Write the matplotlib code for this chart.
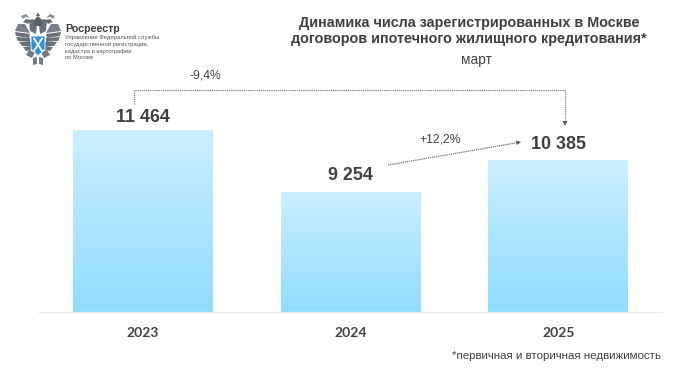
import numpy as np
import matplotlib
matplotlib.use("Agg")
import matplotlib.pyplot as plt
from matplotlib.colors import LinearSegmentedColormap
from matplotlib.patches import Polygon, Circle

years = ["2023", "2024", "2025"]
values = [11464, 9254, 10385]
labels = ["11 464", "9 254", "10 385"]
change_total = "-9,4%"
change_last = "+12,2%"

W, H = 682, 384
plt.rcParams["font.family"] = ["Liberation Sans", "DejaVu Sans"]
fig = plt.figure(figsize=(W/100, H/100), dpi=100, facecolor="white")

def rect(x0, ytop, x1, ybot):
    return [x0/W, 1-ybot/H, (x1-x0)/W, (ybot-ytop)/H]

ax = fig.add_axes(rect(39, 100, 662, 312))
ymin = 5000
ymax = ymin + 212/0.02805
x = np.arange(3)
bw = 0.672
cmap = LinearSegmentedColormap.from_list("b", ["#90DCFF", "#CBEEFF"])
grad = np.linspace(0, 1, 256).reshape(-1, 1)
bars = ax.bar(x, values, width=bw, color="none", edgecolor="none")
for b in bars:
    ax.imshow(grad, extent=[b.get_x(), b.get_x()+b.get_width(), ymin, b.get_height()],
              origin="lower", aspect="auto", cmap=cmap, zorder=2)
ax.set_xlim(-0.5, 2.5)
ax.set_ylim(ymin, ymax)
for s in ["left", "right", "top"]:
    ax.spines[s].set_visible(False)
ax.spines["bottom"].set_color("#E8E8E8")
ax.spines["bottom"].set_linewidth(1)
ax.set_yticks([])
ax.set_xticks(x)
ax.set_xticklabels(years, fontsize=10, fontweight="bold", color="#404040", family=["Lato", "DejaVu Sans"])
ax.tick_params(axis="x", length=0, pad=10.5)
label_pad = [3.2, 6.5, 6]
for i, v in enumerate(values):
    ax.annotate(labels[i], (x[i], v), xytext=(0, label_pad[i]), textcoords="offset points", ha="center", va="bottom",
                fontsize=12.9, fontweight="bold", color="#404040", zorder=4)

ov = fig.add_axes([0, 0, 1, 1], facecolor="none")
ov.set_xlim(0, W); ov.set_ylim(H, 0); ov.axis("off")
tc = "#404040"
ov.text(469, 31, "Динамика числа зарегистрированных в Москве\nдоговоров ипотечного жилищного кредитования*",
        ha="center", va="center", fontsize=10.4, fontweight="bold", color=tc, linespacing=1.1)
ov.text(476, 60, "март", ha="center", va="center", fontsize=9.8, color=tc)
ov.text(556, 356, "*первичная и вторичная недвижимость", ha="center", va="center", fontsize=8.25, color=tc)

dash = dict(color="#808080", lw=0.9, ls=(0, (1, 0.7)))
ov.plot([134, 134, 565, 565], [104, 90, 90, 122], **dash)
ov.plot([388, 518], [165, 142.6], color="#707070", lw=0.9, ls=(0, (1, 0.7)))
ov.add_patch(Polygon([(565, 126), (562.5, 121), (567.5, 121)], closed=True, fc="#555555", ec="none"))
ov.add_patch(Polygon([(521, 142), (516, 140.5), (516.7, 145)], closed=True, fc="#555555", ec="none"))
ov.text(205, 75.5, change_total, ha="center", va="center", fontsize=8.7, color=tc)
ov.text(440, 140, change_last, ha="center", va="center", fontsize=8.7, color=tc)

ov.text(65, 28.5, "Росреестр", ha="left", va="center", fontsize=7.7, fontweight="bold", color="#3A3A3A")
ov.text(65, 37, "Управление Федеральной службы", ha="left", va="center", fontsize=4.2, color="#555555")
ov.text(65, 44.5, "государственной регистрации,", ha="left", va="center", fontsize=4.2, color="#555555")
ov.text(65, 51, "кадастра и картографии", ha="left", va="center", fontsize=4.2, color="#555555")
ov.text(65, 57.5, "по Москве", ha="left", va="center", fontsize=4.2, color="#555555")

# emblem (decorative)
g = "#5A626B"
cx = 38
for sgn in (-1, 1):
    P = lambda pts, **k: ov.add_patch(Polygon([(cx+sgn*a, b) for a, b in pts], closed=True, fc=k.get("fc", g), ec="none", alpha=k.get("a", 0.9)))
    P([(8,34),(23,32),(22,36),(9,38)])
    P([(8,38),(22,37),(20,41),(8,42)])
    P([(7,42),(19,42),(16,46),(7,46)])
    P([(7,46),(15,47),(12,51),(7,50)])
    P([(8,33),(13,24),(20,24),(23,31)], a=0.8)
    P([(1,25),(5,19),(9,20),(8,31),(2,34)], a=0.9)
    P([(7,20),(12,19),(15,22),(10,24)])
    P([(8,18),(12,14),(17,16),(15,19),(12,17)], a=0.7)
    P([(3,52),(9,50),(12,55),(6,58)], a=0.85)
    P([(1,57),(5,58),(5,65),(1,64)], a=0.85)
ov.add_patch(Polygon([(33,21),(38,16),(43,21),(41,26),(35,26)], closed=True, fc=g, ec="none"))
ov.add_patch(Polygon([(36,16),(38,12.5),(40,16)], closed=True, fc=g, ec="none"))
ov.add_patch(Polygon([(31,36),(45,36),(45,49),(38,56),(31,49)], closed=True, fc="#2F8FE0", ec="white", lw=0.6))
ov.plot([34, 42], [38.5, 51], color="white", lw=1.3)
ov.plot([42, 34], [38.5, 51], color="white", lw=1.3)

fig.savefig("out.png", dpi=100, facecolor="white")
